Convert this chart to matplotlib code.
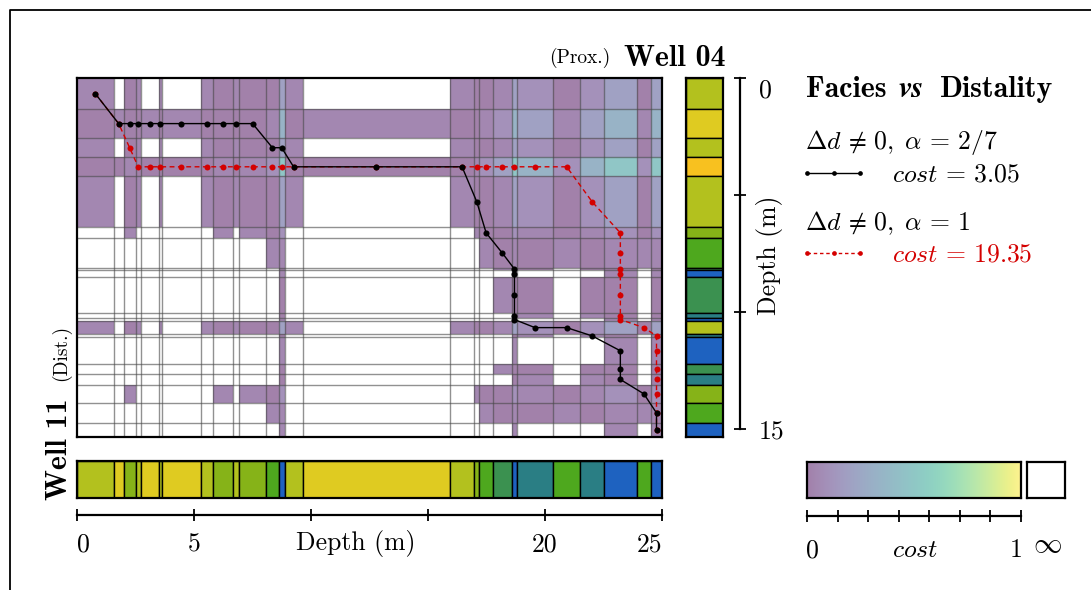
import matplotlib

matplotlib.use("Agg")
import matplotlib.pyplot as plt
import numpy as np
from matplotlib.colors import ListedColormap

plt.rcParams["font.family"] = ["cmr10", "DejaVu Serif"]
plt.rcParams["mathtext.fontset"] = "cm"
plt.rcParams["axes.formatter.use_mathtext"] = True
plt.rcParams["axes.unicode_minus"] = False

# facies codes, ordered proximal -> distal
facies = ["H", "B", "A", "C", "D", "E", "F", "G"]
facies_colors = ["#f8c11f", "#dfcb21", "#b3c11e", "#86b318",
                 "#4ea81e", "#3b9150", "#2a7e84", "#1e62c0"]

# Well 11 (distal, along x): segment boundaries (m) and facies
well11_bounds = [0.0, 1.57, 1.99, 2.51, 2.72, 3.49, 3.63, 5.29, 5.81, 6.67, 6.93,
                 8.08, 8.62, 8.87, 9.64, 15.94, 16.97, 17.20, 17.77, 18.59, 18.80,
                 20.34, 21.51, 22.52, 23.92, 24.53, 25.0]
well11_facies = ["A", "B", "C", "A", "B", "A", "B", "A", "C", "A", "C", "D", "G",
                 "A", "B", "A", "C", "D", "E", "G", "F", "D", "F", "G", "D", "G"]

# Well 04 (proximal, along y)
well04_bounds = [0.0, 1.32, 2.55, 3.38, 4.18, 6.37, 6.84, 8.10, 8.20, 8.50, 10.04,
                 10.25, 10.36, 10.94, 11.07, 12.21, 12.62, 13.11, 13.85, 14.74, 15.31]
well04_facies = ["A", "B", "A", "H", "A", "C", "D", "E", "G", "E",
                 "F", "G", "A", "F", "G", "E", "F", "C", "D", "G"]

inf = np.inf
# cost of matching a Well 04 facies (row) with a Well 11 facies (column)
pair_cost = [
    [0.04, 0.005, 0.005, 0.04, 0.10, 0.20, 0.33, 0.49],
    [inf, 0.04, 0.005, 0.005, 0.04, 0.10, 0.20, 0.33],
    [inf, inf, 0.04, 0.005, 0.005, 0.04, 0.10, 0.20],
    [inf, inf, inf, 0.04, 0.005, 0.005, 0.04, 0.10],
    [inf, inf, inf, inf, 0.04, 0.005, 0.005, 0.04],
    [inf, inf, inf, inf, inf, 0.04, 0.005, 0.005],
    [inf, inf, inf, inf, inf, inf, 0.04, 0.005],
    [inf, inf, inf, inf, inf, inf, inf, 0.04],
]

# alignment paths (Well 11 segment index, Well 04 segment index)
path_a_cols = [0, 1, 2, 3, 4, 5, 6, 7, 8, 9, 10, 11, 12, 13, 14, 15, 16, 17, 18,
               19, 19, 19, 19, 19, 20, 21, 22, 23, 23, 23, 24, 25, 25]
path_a_rows = [0, 1, 1, 1, 1, 1, 1, 1, 1, 1, 1, 2, 2, 3, 3, 3, 4, 5, 6,
               7, 8, 9, 10, 11, 12, 12, 13, 14, 15, 16, 17, 18, 19]
path_b_cols = [0, 1, 2, 3, 4, 5, 6, 7, 8, 9, 10, 11, 12, 13, 14, 15, 16, 17, 18,
               19, 20, 21, 22, 23, 23, 23, 23, 23, 23, 23, 24, 25, 25, 25, 25, 25, 25, 25]
path_b_rows = [0, 1, 2, 3, 3, 3, 3, 3, 3, 3, 3, 3, 3, 3, 3, 3, 3, 3, 3,
               3, 3, 3, 4, 5, 6, 7, 8, 9, 10, 11, 12, 13, 14, 15, 16, 17, 18, 19]

RED = "#d40000"
W, H = 1091, 590
FS = 18.5
BF = 21.5


def rect(x0, y0, x1, y1):
    # pixel box (top-left origin) -> figure fraction
    return [x0 / W, 1 - y1 / H, (x1 - x0) / W, (y1 - y0) / H]


# viridis seen through 50 % transparency
vir = plt.get_cmap("viridis")(np.linspace(0, 1, 256))[:, :3]
cmap = ListedColormap(0.5 * vir + 0.5)

fi = {f: i for i, f in enumerate(facies)}
cost = np.array([[pair_cost[fi[r]][fi[c]] for c in well11_facies] for r in well04_facies])
cost = np.ma.masked_invalid(cost)

x_b = np.array(well11_bounds)
y_b = np.array(well04_bounds)
x_c = (x_b[:-1] + x_b[1:]) / 2
y_c = (y_b[:-1] + y_b[1:]) / 2

fig = plt.figure(figsize=(W / 100, H / 100), dpi=100)

# cost matrix
ax = fig.add_axes(rect(77, 78.3, 662, 436.7))
ax.pcolormesh(x_b, y_b, cost, cmap=cmap, vmin=0, vmax=1, edgecolors="none")
for x in x_b[1:-1]:
    ax.axvline(x, color="#484848", lw=1.0, alpha=0.6)
for y in y_b[1:-1]:
    ax.axhline(y, color="#484848", lw=1.0, alpha=0.6)
ax.plot(x_c[path_b_cols], y_c[path_b_rows], color=RED, lw=1.0, ls=(0, (3.5, 2.5)),
        marker="o", ms=4.3, mew=0)
ax.plot(x_c[path_a_cols], y_c[path_a_rows], color="black", lw=1.0,
        marker="o", ms=4.4, mew=0)
ax.set_xlim(x_b[0], x_b[-1])
ax.set_ylim(y_b[-1], y_b[0])
ax.set_xticks([])
ax.set_yticks([])
for s in ax.spines.values():
    s.set_linewidth(1.6)

# Well 04 facies column
axw = fig.add_axes(rect(686, 78.3, 723, 436.7))
axw.bar(np.zeros(len(well04_facies)), np.diff(y_b), bottom=y_b[:-1], width=1, align="edge",
        color=[facies_colors[fi[f]] for f in well04_facies], edgecolor="black", linewidth=1.0)
axw.set_xlim(0, 1)
axw.set_ylim(y_b[-1], y_b[0])
axw.set_xticks([])
axw.set_yticks([])
for s in axw.spines.values():
    s.set_linewidth(1.6)

# Well 11 facies bar
axb = fig.add_axes(rect(77, 461, 662, 498))
axb.barh(np.zeros(len(well11_facies)), np.diff(x_b), left=x_b[:-1], height=1, align="edge",
         color=[facies_colors[fi[f]] for f in well11_facies], edgecolor="black", linewidth=1.0)
axb.set_xlim(x_b[0], x_b[-1])
axb.set_ylim(0, 1)
axb.set_xticks([])
axb.set_yticks([])
for s in axb.spines.values():
    s.set_linewidth(1.6)


def line_axis(box, horizontal):
    a = fig.add_axes(box)
    a.patch.set_alpha(0)
    for s in a.spines.values():
        s.set_visible(False)
    if horizontal:
        a.spines["bottom"].set_visible(True)
        a.spines["bottom"].set_linewidth(1.6)
        a.set_yticks([])
    else:
        a.spines["right"].set_visible(True)
        a.spines["right"].set_linewidth(1.6)
        a.set_xticks([])
        a.yaxis.tick_right()
    a.tick_params(direction="inout", length=9, width=1.3, labelsize=FS, pad=9)
    return a


# depth axis of Well 11
axd = line_axis(rect(77, 514, 662, 514.5), True)
axd.set_xlim(x_b[0], x_b[-1])
axd.set_xticks([0, 5, 10, 15, 20, 25])
axd.set_xticklabels(["0", "5", "", "", "20", "25"])
lbl = axd.get_xticklabels()
lbl[0].set_ha("left")
lbl[-1].set_ha("right")

# depth axis of Well 04
axr = line_axis(rect(739.5, 78.3, 740, 429.3), False)
axr.set_ylim(15, 0)
axr.set_yticks([0, 5, 10, 15])
axr.set_yticklabels(["0", "", "", "15"])
axr.get_yticklabels()[0].set_va("top")

# colour bar
axc = fig.add_axes(rect(807, 461.7, 1021, 498.3))
axc.imshow(np.linspace(0, 1, 256)[None, :], cmap=cmap, aspect="auto", extent=[0, 1, 0, 1])
axc.set_xticks([])
axc.set_yticks([])
for s in axc.spines.values():
    s.set_linewidth(1.6)
axi = fig.add_axes(rect(1027, 461.7, 1065, 498.3))
axi.set_xticks([])
axi.set_yticks([])
for s in axi.spines.values():
    s.set_linewidth(1.6)
axct = line_axis(rect(807, 515, 1021, 515.5), True)
axct.set_xlim(0, 1)
axct.set_xticks(np.linspace(0, 1, 8))
axct.set_xticklabels([])

# overlay for text and legend keys (pixel coordinates)
ov = fig.add_axes([0, 0, 1, 1])
ov.set_xlim(0, W)
ov.set_ylim(H, 0)
ov.axis("off")
ov.plot([10, 10, W], [H, 10, 10], color="black", lw=1.3, clip_on=False)

ov.text(725, 66, "Well 04", fontfamily="cmb10", fontsize=BF, ha="right", va="baseline")
ov.text(610, 63, "(Prox.)", fontsize=14, ha="right", va="baseline")
ov.text(67, 500, "Well 11", fontfamily="cmb10", fontsize=BF, rotation=90,
        rotation_mode="anchor", ha="left", va="baseline")
ov.text(66, 381, "(Dist.)", fontsize=14, rotation=90,
        rotation_mode="anchor", ha="left", va="baseline")

ov.text(356, 550, "Depth (m)", fontsize=FS, ha="center", va="baseline")
ov.text(776, 255, "Depth (m)", fontsize=FS, ha="center", va="baseline", rotation=90,
        rotation_mode="anchor")

ov.text(806, 97, "Facies", fontfamily="cmb10", fontsize=BF, va="baseline")
ov.text(899, 97, "vs", fontfamily="STIXGeneral", fontweight="bold", fontstyle="italic",
        fontsize=22, va="baseline")
ov.text(940, 97, "Distality", fontfamily="cmb10", fontsize=BF, va="baseline")

ov.text(805, 149, r"$\Delta d \,\neq\, 0,\; \alpha \,=\, 2/7$", fontsize=FS, va="baseline")
ov.plot([807, 833.5, 860], [173, 173, 173], color="black", lw=1.0, marker="o", ms=3.4, mew=0)
ov.text(892, 181, r"$cost \,=\, 3.05$", fontsize=FS, va="baseline")
ov.text(805, 230, r"$\Delta d \,\neq\, 0,\; \alpha \,=\, 1$", fontsize=FS, va="baseline")
ov.plot([807, 833.5, 860], [253, 253, 253], color=RED, lw=1.0, ls=(0, (2.5, 2)),
        marker="o", ms=3.4, mew=0)
ov.text(892, 262, r"$cost \,=\, 19.35$", fontsize=FS, va="baseline", color=RED)

ov.text(806, 557, "0", fontsize=FS, va="baseline", ha="left")
ov.text(915, 557, r"$cost$", fontsize=FS, va="baseline", ha="center")
ov.text(1016, 557, "1", fontsize=FS, va="baseline", ha="center")
ov.text(1047, 552, r"$\infty$", fontsize=FS + 2, va="baseline", ha="center")

fig.savefig("out.png", dpi=100)
